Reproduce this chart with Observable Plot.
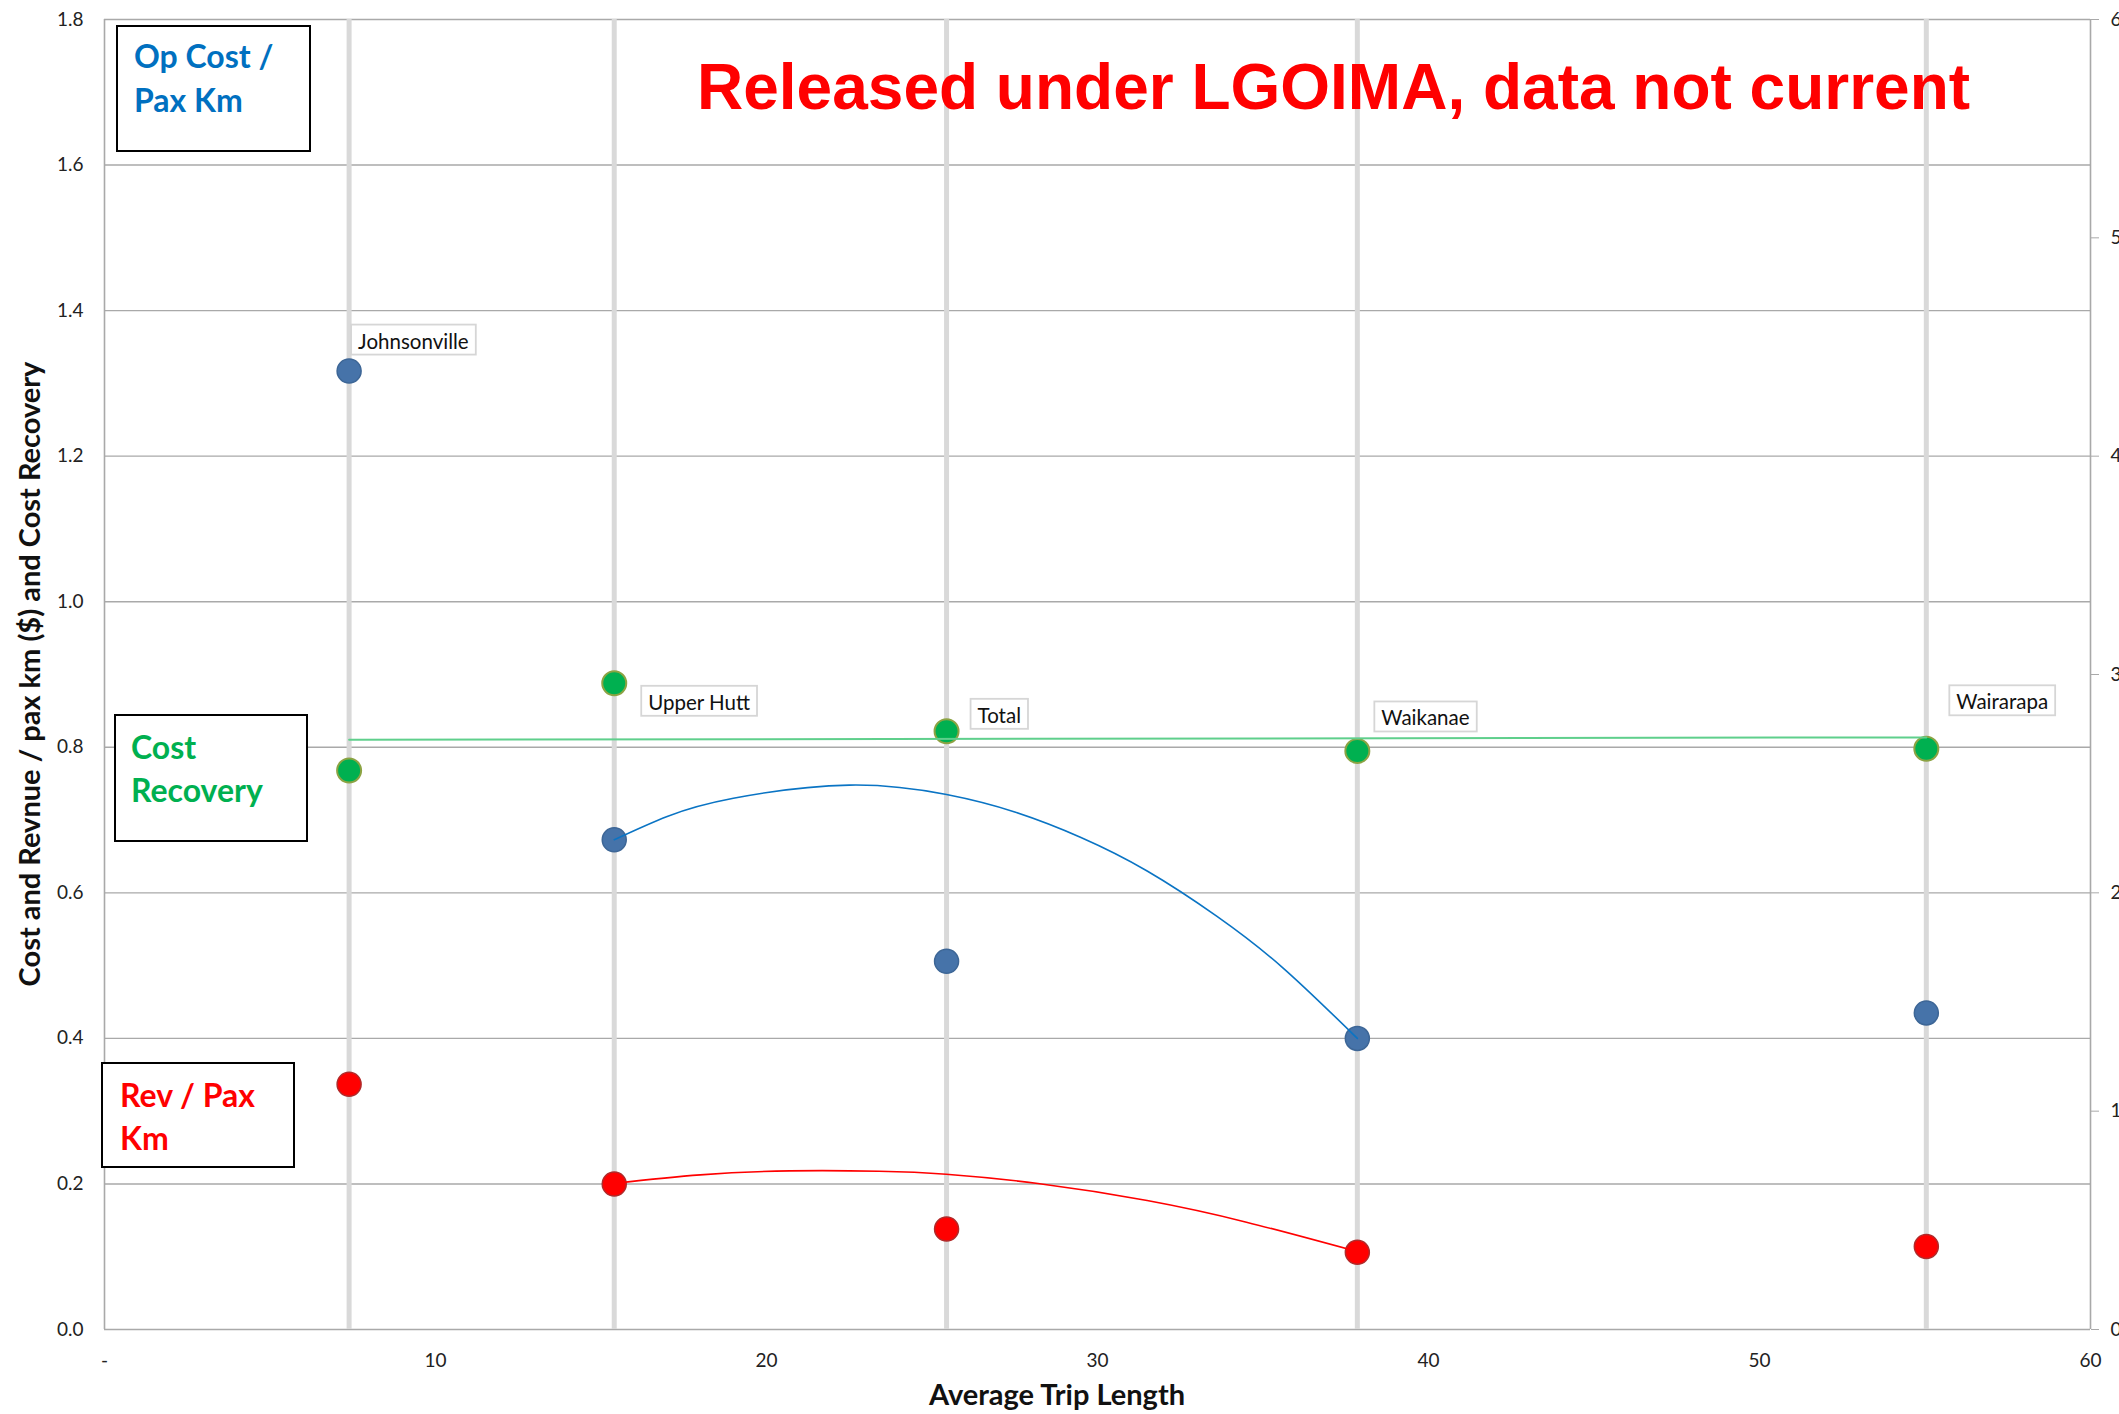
<!DOCTYPE html>
<html><head><meta charset="utf-8">
<script src="https://cdn.jsdelivr.net/npm/d3@7"></script>
<script src="https://cdn.jsdelivr.net/npm/@observablehq/plot@0.6"></script>
<style>
html,body{margin:0;padding:0;background:#fff;overflow:hidden}
#chart{width:2119px;height:1414px;position:relative}
#chart svg{display:block;max-width:none}
</style></head><body><div id="chart"></div>
<script>
// ---- data ----
const stations = ["Johnsonville", "Upper Hutt", "Total", "Waikanae", "Wairarapa"];
const tripLength = [7.39, 15.40, 25.44, 37.85, 55.04];
const opCostPerPaxKm = [1.317, 0.673, 0.506, 0.400, 0.435];
const revPerPaxKm = [0.337, 0.200, 0.138, 0.106, 0.114];
const costRecoveryPct = [25.6, 29.6, 27.4, 26.5, 26.6];

const opTrendX = [15.40, 17.0, 19.0, 22.5, 25.44, 27.5, 29.5, 31.5, 33.6, 35.6, 37.85];
const opTrendY = [0.673, 0.705, 0.730, 0.748, 0.735, 0.711, 0.676, 0.630, 0.568, 0.497, 0.400];
const revTrendX = [15.40, 18.0, 20.7, 23.4, 25.43, 28.2, 31.5, 34.5, 37.85];
const revTrendY = [0.201, 0.2125, 0.218, 0.2175, 0.2134, 0.2006, 0.1772, 0.1475, 0.107];
const recTrendX = [7.39, 55.04];
const recTrendPct = [27.01, 27.12];

const xTicks = [0, 10, 20, 30, 40, 50, 60];
const yTicks = [0, 0.2, 0.4, 0.6, 0.8, 1.0, 1.2, 1.4, 1.6, 1.8];
const rightTicksPct = [0, 10, 20, 30, 40, 50, 60];

const titleText = "Released under LGOIMA, data not current";
const xTitle = "Average Trip Length";
const yTitle = "Cost and Revnue / pax km ($) and Cost Recovery";
const noteOpCost = ["Op Cost /", "Pax Km"];
const noteRecovery = ["Cost", "Recovery"];
const noteRev = ["Rev / Pax", "Km"];

// ---- build ----
const pctToLeft = p => p * 1.8 / 60; // secondary axis 0–60% sits over 0–1.8
const pts = stations.map((s, i) => ({
  station: s, x: tripLength[i], op: opCostPerPaxKm[i], rev: revPerPaxKm[i], rec: pctToLeft(costRecoveryPct[i])
}));
const opTrend = opTrendX.map((x, i) => ({x, y: opTrendY[i]}));
const revTrend = revTrendX.map((x, i) => ({x, y: revTrendY[i]}));
const recTrend = recTrendX.map((x, i) => ({x, y: pctToLeft(recTrendPct[i])}));

const labelLayout = {
  "Johnsonville": {series: "op", dx: 9, dy: -29},
  "Upper Hutt": {series: "rec", dx: 34, dy: 20},
  "Total": {series: "rec", dx: 31, dy: -15},
  "Waikanae": {series: "rec", dx: 24, dy: -32},
  "Wairarapa": {series: "rec", dx: 30, dy: -46}
};

const labelMarks = pts.map(p => {
  const L = labelLayout[p.station];
  return Plot.text([p], {x: "x", y: L.series, text: "station", textAnchor: "start",
    dx: L.dx, dy: L.dy, fontSize: 20.5, fill: "#111"});
});

const plot = Plot.plot({
  width: 2119, height: 1414,
  marginLeft: 104, marginRight: 29, marginTop: 19, marginBottom: 85,
  x: {domain: [0, 60]},
  y: {domain: [0, 1.8]},
  style: {fontFamily: "Lato, 'Open Sans', sans-serif", fontSize: "19px", color: "#222", background: "#fff"},
  marks: [
    Plot.gridY(yTicks, {stroke: "#a9a9a9", strokeOpacity: 1, strokeWidth: 1.4}),
    Plot.ruleX([0, 60], {stroke: "#a9a9a9", strokeWidth: 1.6}),
    Plot.axisX(xTicks, {tickSize: 0, tickPadding: 24, label: null, fill: "#222",
      tickFormat: d => d === 0 ? "-" : String(d)}),
    Plot.axisY(yTicks, {tickSize: 0, tickPadding: 21, label: null, fill: "#222",
      tickFormat: d => d.toFixed(1)}),
    Plot.axisY(rightTicksPct.map(pctToLeft), {anchor: "right", tickSize: 8, tickPadding: 12, label: null,
      stroke: "#a9a9a9", fill: "#222", textAnchor: "start",
      tickFormat: d => Math.round(d * 60 / 1.8) + "%"}),
    Plot.ruleX(pts, {x: "x", stroke: "#d9d9d9", strokeWidth: 5}),
    Plot.dot(pts, {x: "x", y: "rec", r: 12, fill: "#00b050", stroke: "#8ca343", strokeWidth: 2}),
    Plot.dot(pts, {x: "x", y: "op", r: 12, fill: "#4673a9", stroke: "#3d6696", strokeWidth: 1.5}),
    Plot.dot(pts, {x: "x", y: "rev", r: 12, fill: "#ff0000", stroke: "#b02a2a", strokeWidth: 1.5}),
    Plot.line(recTrend, {x: "x", y: "y", stroke: "#5fcf8c", strokeWidth: 2}),
    Plot.line(opTrend, {x: "x", y: "y", curve: "natural", stroke: "#0a74c4", strokeWidth: 1.6}),
    Plot.line(revTrend, {x: "x", y: "y", curve: "natural", stroke: "#ff0000", strokeWidth: 1.6}),
    ...labelMarks
  ]
});

document.getElementById("chart").appendChild(plot);
const svg = d3.select(plot);

// boxes behind station labels
const nameSet = new Set(stations);
plot.querySelectorAll("text").forEach(t => {
  if (!nameSet.has(t.textContent)) return;
  const b = t.getBBox();
  const r = document.createElementNS("http://www.w3.org/2000/svg", "rect");
  r.setAttribute("x", b.x - 7);
  r.setAttribute("y", b.y - 4);
  r.setAttribute("width", b.width + 14);
  r.setAttribute("height", b.height + 6);
  r.setAttribute("fill", "#fff");
  r.setAttribute("stroke", "#d6d6d6");
  r.setAttribute("stroke-width", 1.8);
  if (t.getAttribute("transform")) r.setAttribute("transform", t.getAttribute("transform"));
  t.parentNode.insertBefore(r, t);
});

// annotation text boxes
function note(x, y, w, h, lines, color, tx, ty, lh) {
  const g = svg.append("g").attr("text-anchor", "start");
  g.append("rect").attr("x", x).attr("y", y).attr("width", w).attr("height", h)
    .attr("fill", "#fff").attr("stroke", "#000").attr("stroke-width", 2);
  lines.forEach((s, i) => g.append("text").attr("x", tx).attr("y", ty + i * lh)
    .attr("text-anchor", "start")
    .attr("fill", color).attr("font-weight", 700).attr("font-size", 32)
    .attr("font-family", "Lato, 'Open Sans', sans-serif").text(s));
}
note(117, 26, 193, 125, noteOpCost, "#0070c0", 134, 68, 44);
note(115, 715, 192, 126, noteRecovery, "#00b050", 131, 759, 43);
note(102, 1063, 192, 104, noteRev, "#ff0000", 120, 1107, 43);

// watermark title
svg.append("text").attr("x", 697).attr("y", 109).attr("text-anchor", "start")
  .attr("fill", "#ff0000").attr("font-weight", 700).attr("font-size", 64)
  .attr("font-family", "'Liberation Sans', Arial, sans-serif").text(titleText);

// axis titles
svg.append("text").attr("x", 1057).attr("y", 1405).attr("text-anchor", "middle")
  .attr("font-weight", 700).attr("font-size", 29).attr("fill", "#111")
  .attr("font-family", "Lato, 'Open Sans', sans-serif").text(xTitle);
svg.append("text").attr("transform", "translate(40,674) rotate(-90)").attr("text-anchor", "middle")
  .attr("font-weight", 700).attr("font-size", 29).attr("fill", "#111")
  .attr("font-family", "Lato, 'Open Sans', sans-serif").text(yTitle);
</script></body></html>
